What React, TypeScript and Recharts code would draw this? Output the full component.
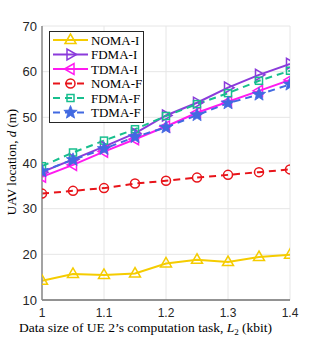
import React from "react";
import { LineChart, Line, XAxis, YAxis, CartesianGrid } from "recharts";

const xs = [1, 1.05, 1.1, 1.15, 1.2, 1.25, 1.3, 1.35, 1.4];
const nomaI = [14.2, 15.7, 15.5, 15.8, 18.0, 18.8, 18.3, 19.4, 19.9];
const fdmaI = [38.0, 40.8, 43.6, 46.5, 50.4, 53.2, 56.5, 59.3, 61.7];
const tdmaI = [37.0, 39.6, 42.5, 45.2, 48.0, 51.0, 53.4, 55.8, 58.2];
const nomaF = [33.3, 33.9, 34.5, 35.5, 36.1, 36.8, 37.4, 38.0, 38.6];
const fdmaF = [39.3, 42.3, 44.9, 47.4, 50.3, 52.9, 55.3, 58.0, 60.2];
const tdmaF = [38.2, 40.7, 43.1, 45.7, 47.8, 50.5, 53.1, 55.0, 57.2];
const xTicks = [1, 1.1, 1.2, 1.3, 1.4];
const yTicks = [10, 20, 30, 40, 50, 60, 70];

const data = xs.map((x, i) => ({
  x,
  nomaI: nomaI[i],
  fdmaI: fdmaI[i],
  tdmaI: tdmaI[i],
  nomaF: nomaF[i],
  fdmaF: fdmaF[i],
  tdmaF: tdmaF[i],
}));

type Shape = "up" | "right" | "left" | "circle" | "square" | "star";

const C = {
  nomaI: "#F5CC00",
  fdmaI: "#8B3BDB",
  tdmaI: "#FF1AF0",
  nomaF: "#E8141A",
  fdmaF: "#17BF8E",
  tdmaF: "#4169E1",
};

function starPoints(cx: number, cy: number, ro: number, ri: number) {
  const pts: string[] = [];
  for (let i = 0; i < 10; i++) {
    const r = i % 2 === 0 ? ro : ri;
    const a = -Math.PI / 2 + (i * Math.PI) / 5;
    pts.push(`${cx + r * Math.cos(a)},${cy + r * Math.sin(a)}`);
  }
  return pts.join(" ");
}

function Marker({ shape, cx, cy, color }: { shape: Shape; cx: number; cy: number; color: string }) {
  const sw = 1.5;
  switch (shape) {
    case "up":
      return <polygon points={`${cx},${cy - 6} ${cx - 5.5},${cy + 3.5} ${cx + 5.5},${cy + 3.5}`} fill="none" stroke={color} strokeWidth={sw} />;
    case "right":
      return <polygon points={`${cx + 6},${cy} ${cx - 3.5},${cy - 5.5} ${cx - 3.5},${cy + 5.5}`} fill="none" stroke={color} strokeWidth={sw} />;
    case "left":
      return <polygon points={`${cx - 6},${cy} ${cx + 3.5},${cy - 5.5} ${cx + 3.5},${cy + 5.5}`} fill="none" stroke={color} strokeWidth={sw} />;
    case "circle":
      return <circle cx={cx} cy={cy} r={4.5} fill="none" stroke={color} strokeWidth={sw} />;
    case "square":
      return <rect x={cx - 3.5} y={cy - 3.5} width={7} height={7} fill="none" stroke={color} strokeWidth={sw} />;
    case "star":
      return <polygon points={starPoints(cx, cy, 7, 3)} fill={color} stroke={color} strokeWidth={0.8} />;
  }
  return null;
}

function makeDot(shape: Shape, color: string) {
  return (props: any) => {
    const { cx, cy, index } = props;
    if (cx == null || cy == null) return <g key={`d-${shape}-${index}`} />;
    return (
      <g key={`d-${shape}-${index}`}>
        <Marker shape={shape} cx={cx} cy={cy} color={color} />
      </g>
    );
  };
}

const series: { key: keyof typeof C; name: string; shape: Shape; dashed: boolean }[] = [
  { key: "nomaI", name: "NOMA-I", shape: "up", dashed: false },
  { key: "fdmaI", name: "FDMA-I", shape: "right", dashed: false },
  { key: "tdmaI", name: "TDMA-I", shape: "left", dashed: false },
  { key: "nomaF", name: "NOMA-F", shape: "circle", dashed: true },
  { key: "fdmaF", name: "FDMA-F", shape: "square", dashed: true },
  { key: "tdmaF", name: "TDMA-F", shape: "star", dashed: true },
];

const serif = "'Liberation Serif', 'DejaVu Serif', serif";
const sans = "'Liberation Sans', Arial, sans-serif";

export default function App() {
  return (
    <div style={{ position: "absolute", left: 0, top: 0, width: 320, height: 338, background: "#fff" }}>
      <LineChart width={320} height={338} data={data} margin={{ top: 26, right: 30, left: 0, bottom: 0 }}>
        <CartesianGrid stroke="#e6e6e6" strokeWidth={1} />
        <XAxis
          dataKey="x"
          type="number"
          domain={[1, 1.4]}
          ticks={xTicks}
          height={38}
          tickLine={false}
          tickSize={0}
          tickMargin={8}
          axisLine={{ stroke: "#333", strokeWidth: 1 }}
          tick={{ fill: "#262626", fontSize: 12, fontFamily: sans }}
          allowDataOverflow
        />
        <XAxis xAxisId="top" orientation="top" height={0} tick={false} tickLine={false} axisLine={{ stroke: "#888", strokeWidth: 1 }} />
        <YAxis
          type="number"
          domain={[10, 70]}
          ticks={yTicks}
          width={42}
          tickLine={false}
          tickSize={0}
          tickMargin={5}
          axisLine={{ stroke: "#888", strokeWidth: 1.5 }}
          tick={{ fill: "#262626", fontSize: 13, fontFamily: sans }}
          allowDataOverflow
        />
        <YAxis yAxisId="r" orientation="right" width={0} tick={false} tickLine={false} axisLine={{ stroke: "#888", strokeWidth: 1.5 }} />
        {series.map((s) => (
          <Line
            key={s.key}
            dataKey={s.key}
            name={s.name}
            type="linear"
            stroke={C[s.key]}
            strokeWidth={2}
            strokeDasharray={s.dashed ? "7 5" : undefined}
            dot={makeDot(s.shape, C[s.key])}
            activeDot={false}
            isAnimationActive={false}
          />
        ))}
      </LineChart>
      <svg width={320} height={338} style={{ position: "absolute", left: 0, top: 0, pointerEvents: "none" }}>
        <rect x={49.5} y={31.5} width={94} height={91} fill="#fff" stroke="#262626" strokeWidth={1} />
        {series.map((s, i) => {
          const y = 40 + i * 14.5;
          return (
            <g key={s.key}>
              <line x1={53} x2={88} y1={y} y2={y} stroke={C[s.key]} strokeWidth={2} strokeDasharray={s.dashed ? "7 5" : undefined} />
              <Marker shape={s.shape} cx={70.5} cy={y} color={C[s.key]} />
              <text x={91} y={y + 4.5} fontFamily={serif} fontSize={13} fill="#000">
                {s.name}
              </text>
            </g>
          );
        })}
        <text x={16} y={162} transform="rotate(-90 16 162)" textAnchor="middle" fontFamily={serif} fontSize={13} fill="#000">
          UAV location, <tspan fontStyle="italic">d</tspan> (m)
        </text>
        <text x={19} y={332} textAnchor="start" fontFamily={serif} fontSize={13.5} fill="#000">
          Data size of UE 2’s computation task, <tspan fontStyle="italic">L</tspan>
          <tspan fontSize={9} dy={3}>2</tspan>
          <tspan dy={-3}> (kbit)</tspan>
        </text>
      </svg>
    </div>
  );
}
